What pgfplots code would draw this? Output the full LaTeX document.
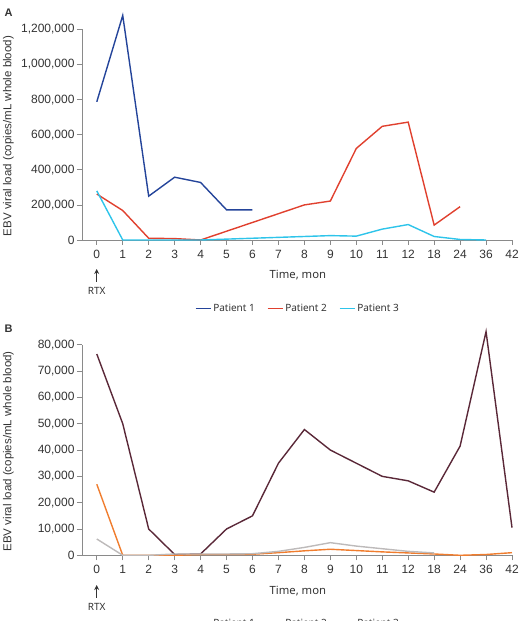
\documentclass[border=0pt]{standalone}
\usepackage{pgfplots}
\pgfplotsset{compat=1.18}
\usepackage{fontspec}
\setmainfont{Liberation Sans}
\newfontfamily\notos{Noto Sans}
\usetikzlibrary{arrows.meta}
\definecolor{axgray}{HTML}{8A8A8A}
\definecolor{txt}{HTML}{333333}
\definecolor{pone}{HTML}{24449A}
\definecolor{ptwo}{HTML}{E0402E}
\definecolor{pthree}{HTML}{2EC4EA}
\definecolor{bone}{HTML}{5A2838}
\definecolor{btwo}{HTML}{F07D2E}
\definecolor{bthree}{HTML}{BDBABA}
\pgfplotsset{
  common/.style={
    scale only axis, width=430pt, height=210.5pt,
    anchor=south west,
    axis lines=left, axis line style={axgray, line width=0.9pt, -},
    xmin=-0.57, xmax=16,
    xtick={0,...,16},
    xticklabels={0,1,2,3,4,5,6,7,8,9,10,11,12,18,24,36,42},
    tick style={axgray, line width=0.8pt},
    tick align=outside, major tick length=5pt,
    tick label style={font=\fontsize{12}{14}\selectfont, text=txt},
    xticklabel style={yshift=-1.5pt},
    yticklabel style={xshift=1pt},
    scaled y ticks=false,
    clip=false,
    xlabel={\notos Time, mon},
    xlabel style={font=\fontsize{11.3}{13}\selectfont, text=txt, at={(axis description cs:0.502,-0.168)}, anchor=center},
    ylabel={EBV viral load (copies/mL whole blood)},
    ylabel style={font=\fontsize{11.5}{13}\selectfont, text=txt, at={(axis description cs:-0.171,0.494)}, anchor=center},
    legend columns=3,
    legend style={draw=none, fill=none, font=\notos\fontsize{10}{12}\selectfont, text=txt,
      anchor=center, /tikz/every even column/.append style={column sep=10pt}},
    legend image code/.code={\draw[#1, line width=1.4pt] (0pt,0pt) -- (15pt,0pt);},
  }
}
\begin{document}
\begin{tikzpicture}[x=1pt,y=1pt]
\useasboundingbox (0pt,0pt) rectangle (531pt,621pt);
% Panel A
\begin{axis}[common, at={(82pt,381pt)},
  ymin=0, ymax=1200000, ytick={0,200000,400000,600000,800000,1000000,1200000},
  yticklabels={0,{200,000},{400,000},{600,000},{800,000},{1,000,000},{1,200,000}},
  legend style={at={(axis description cs:0.502,-0.325)}}]
\addplot[pone, line width=1.4pt] coordinates {(0,788000) (1,1280000) (2,250000) (3,358000) (4,328000) (5,172000) (6,172000)};
\addlegendentry{Patient 1}
\addplot[ptwo, line width=1.4pt] coordinates {(0,262000) (1,168000) (2,10000) (3,8000) (4,0) (5,50000) (6,100000) (7,150000) (8,200000) (9,222000) (10,522000) (11,648000) (12,672000) (13,85000) (14,190000)};
\addlegendentry{Patient 2}
\addplot[pthree, line width=1.4pt] coordinates {(0,280000) (1,0) (2,0) (3,0) (4,0) (5,5000) (6,10000) (7,15000) (8,20000) (9,25000) (10,22000) (11,62000) (12,88000) (13,20000) (14,3000) (15,0)};
\addlegendentry{Patient 3}
\end{axis}
% Panel B
\begin{axis}[common, at={(82pt,65.7pt)},
  ymin=0, ymax=80000, ytick={0,10000,...,80000},
  yticklabels={0,{10,000},{20,000},{30,000},{40,000},{50,000},{60,000},{70,000},{80,000}},
  legend style={at={(axis description cs:0.502,-0.322)}}]
\addplot[bone, line width=1.4pt] coordinates {(0,76500) (1,50000) (2,10000) (3,300) (4,500) (5,10000) (6,15000) (7,35000) (8,47800) (9,40000) (10,35000) (11,30000) (12,28300) (13,24000) (14,41500) (15,85000) (16,10500)};
\addlegendentry{Patient 1}
\addplot[btwo, line width=1.4pt] coordinates {(0,27000) (1,0) (2,0) (3,0) (4,300) (5,300) (6,400) (7,1000) (8,1700) (9,2300) (10,1800) (11,1300) (12,900) (13,500) (14,0) (15,300) (16,1000)};
\addlegendentry{Patient 2}
\addplot[bthree, line width=1.4pt] coordinates {(0,6200) (1,0) (2,0) (3,500) (4,500) (5,500) (6,600) (7,1500) (8,3000) (9,4800) (10,3500) (11,2500) (12,1500) (13,900)};
\addlegendentry{Patient 3}
\end{axis}
% annotations
\node[font=\bfseries\fontsize{11}{13}\selectfont, text=txt] at (8.5pt,608pt) {A};
\node[font=\bfseries\fontsize{11}{13}\selectfont, text=txt] at (8.5pt,292pt) {B};
\draw[txt, line width=1.3pt, -{Stealth[length=5pt,width=5pt]}] (96.7pt,339pt) -- (96.7pt,352pt);
\node[font=\notos\fontsize{10}{12}\selectfont, text=txt] at (96.7pt,330pt) {RTX};
\draw[txt, line width=1.3pt, -{Stealth[length=5pt,width=5pt]}] (96.7pt,23pt) -- (96.7pt,36pt);
\node[font=\notos\fontsize{10}{12}\selectfont, text=txt] at (96.7pt,14pt) {RTX};
\end{tikzpicture}
\end{document}
